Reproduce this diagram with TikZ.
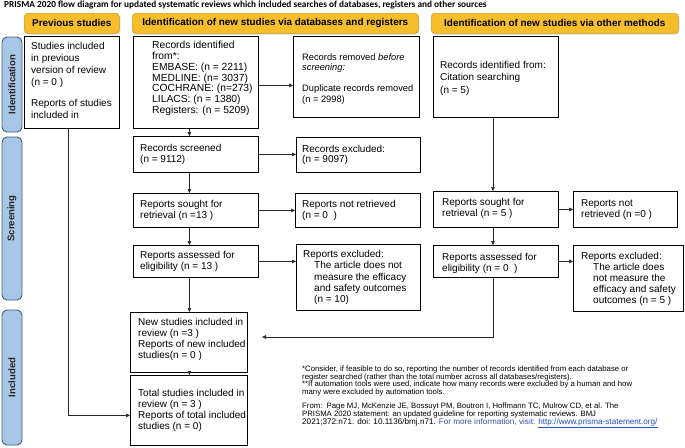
\documentclass[tikz,border=0pt]{standalone}
\usepackage{fontspec}
\setmainfont{Liberation Sans}
\newfontfamily\calib{Carlito}
\usetikzlibrary{arrows.meta,shadows}
\definecolor{hdrfill}{HTML}{F5BE2A}
\definecolor{hdrdraw}{HTML}{D29E1C}
\definecolor{barfill}{HTML}{A8C6E6}
\definecolor{bardraw}{HTML}{3E5F86}
\definecolor{linkblue}{HTML}{1F4FC4}
\definecolor{infoblue}{HTML}{3B4EA0}
\begin{document}
\begin{tikzpicture}[x=1pt,y=-1pt,
  hdr/.style={draw=hdrdraw, fill=hdrfill, rounded corners=3.5pt, line width=0.6pt, anchor=north west, inner sep=0pt,
    font=\fontsize{9.9}{11}\selectfont\bfseries,
    drop shadow={shadow xshift=1pt, shadow yshift=-1.3pt, fill=black!30}},
  side/.style={draw=bardraw, fill=barfill, rounded corners=5pt, line width=0.9pt, inner sep=0pt, rotate=90,
    font=\fontsize{9.6}{11}\selectfont\bfseries, text=black!85},
  box/.style={draw=black, line width=0.85pt, anchor=north west, inner sep=0pt, fill=white},
  txt/.style={anchor=west, align=left, inner sep=0pt, font=\fontsize{10}{10.8}\selectfont},
  arr/.style={-{Triangle[length=4pt,width=3.6pt]}, line width=0.6pt, draw=black!85},
  foot/.style={anchor=north west, align=left, inner sep=0pt, font=\fontsize{7.75}{7.7}\selectfont}
]
\useasboundingbox (0,0) rectangle (685,447);

% title
\node[anchor=west, inner sep=0pt, font=\calib\bfseries\fontsize{9.3}{10}\selectfont] (title) at (4,5)
  {PRISMA 2020 flow diagram for updated systematic reviews which included searches of databases, registers and other sources};

% headers
\node[hdr, minimum width=95, minimum height=20] (h1) at (24,13) {Previous studies};
\node[hdr, minimum width=286, minimum height=20] (h2) at (132,13) {Identification of new studies via databases and registers};
\node[hdr, minimum width=247, minimum height=20] (h3) at (431,13) {Identification of new studies via other methods};

% side bars
\node[side, minimum width=95, minimum height=20] (sid) at (12,84.5) {Identification};
\node[side, minimum width=163, minimum height=20] (sscr) at (12,218.5) {Screening};
\node[side, minimum width=135, minimum height=20] (sinc) at (12,377.5) {Included};

% previous studies
\node[box, minimum width=95, minimum height=92] (prev) at (24,36) {};
\node[txt, anchor=north west, font=\fontsize{10}{12}\selectfont] (tprev) at (31,42)
  {Studies included\\in previous\\version of review\\(n = 0 )\\[8.7pt]Reports of studies\\included in};

% databases column
\node[box, minimum width=125, minimum height=92] (recid) at (133,36) {};
\node[txt, font=\fontsize{10.3}{10.7}\selectfont] (trecid) at ([xshift=19pt,yshift=4pt]recid.west)
  {Records identified\\from*:\\EMBASE: (n = 2211)\\MEDLINE: (n= 3037)\\COCHRANE: (n=273)\\LILACS: (n = 1380)\\Registers: (n = 5209)};

\node[box, minimum width=126, minimum height=81] (remov) at (293,36) {};
\node[txt, font=\fontsize{9.3}{10.6}\selectfont] (tremov) at ([xshift=9pt,yshift=-2pt]remov.west)
  {Records removed \textit{before}\\\textit{screening:}\\[10.6pt]Duplicate records removed\\(n = 2998)};

\node[box, minimum width=125, minimum height=36] (scr) at (133,136) {};
\node[txt] (tscr) at ([xshift=7pt]scr.west) {Records screened\\(n = 9112)};

\node[box, minimum width=124, minimum height=35] (excl) at (296,137) {};
\node[txt] (texcl) at ([xshift=6pt]excl.west) {Records excluded:\\(n = 9097)};

\node[box, minimum width=125, minimum height=34] (sought) at (133,193) {};
\node[txt] (tsought) at ([xshift=7pt]sought.west) {Reports sought for\\retrieval (n =13 )};

\node[box, minimum width=125, minimum height=34] (notret) at (295,193) {};
\node[txt] (tnotret) at ([xshift=7pt]notret.west) {Reports not retrieved\\(n = 0\ \ )};

\node[box, minimum width=125, minimum height=32] (asse) at (133,245) {};
\node[txt] (tasse) at ([xshift=7pt]asse.west) {Reports assessed for\\eligibility (n = 13 )};

\node[box, minimum width=124, minimum height=66] (excl2) at (296,244) {};
\node[txt, font=\fontsize{10}{11.2}\selectfont] (texcl2) at ([xshift=7pt]excl2.west)
  {Reports excluded:\\\hspace*{11pt}The article does not\\\hspace*{11pt}measure the efficacy\\\hspace*{11pt}and safety outcomes\\\hspace*{11pt}(n = 10)};

\node[box, minimum width=117, minimum height=60] (newst) at (130,312) {};
\node[txt] (tnewst) at ([xshift=8pt,yshift=3pt]newst.west)
  {New studies included in\\review (n =3 )\\Reports of new included\\studies(n = 0 )};

\node[box, minimum width=117, minimum height=70] (total) at (130,375) {};
\node[txt] (ttotal) at ([xshift=8pt]total.west)
  {Total studies included in\\review (n = 3 )\\Reports of total included\\studies (n = 0)};

% other methods column
\node[box, minimum width=125, minimum height=81] (cite) at (433,36) {};
\node[txt, font=\fontsize{10}{12.5}\selectfont] (tcite) at ([xshift=7pt,yshift=-1pt]cite.west)
  {Records identified from:\\Citation searching\\(n = 5)};

\node[box, minimum width=125, minimum height=36] (sought2) at (433,191) {};
\node[txt] (tsought2) at ([xshift=9pt,yshift=1pt]sought2.west) {Reports sought for\\retrieval (n = 5 )};

\node[box, minimum width=104, minimum height=36] (notret2) at (573,191) {};
\node[txt] (tnotret2) at ([xshift=8pt]notret2.west) {Reports not\\retrieved (n =0 )};

\node[box, minimum width=125, minimum height=32] (asse2) at (433,245) {};
\node[txt] (tasse2) at ([xshift=9pt,yshift=-2pt]asse2.west) {Reports assessed for\\eligibility (n = 0\ \ )};

\node[box, minimum width=110, minimum height=66] (excl3) at (573,245) {};
\node[txt, font=\fontsize{10}{11}\selectfont] (texcl3) at ([xshift=8pt]excl3.west)
  {Reports excluded:\\\hspace*{12pt}The article does\\\hspace*{12pt}not measure the\\\hspace*{12pt}efficacy and safety\\\hspace*{12pt}outcomes (n = 5 )};

% connectors
\draw[arr] ([yshift=-3pt]recid.east) -- ([yshift=-3pt]recid.east -| remov.west);
\draw[arr] ([xshift=-6.5pt]recid.south) -- ([xshift=-6.5pt]scr.north);
\draw[arr] (scr.east) -- (scr.east -| excl.west);
\draw[arr] ([xshift=-6.5pt]scr.south) -- ([xshift=-6.5pt]sought.north);
\draw[arr] (sought.east) -- (sought.east -| notret.west);
\draw[arr] ([xshift=-6.5pt]sought.south) -- ([xshift=-6.5pt]asse.north);
\draw[arr] (asse.east) -- (asse.east -| excl2.west);
\draw[arr] ([xshift=-6.5pt]asse.south) -- ([xshift=-6.5pt]asse.south |- newst.north);
\draw[arr] ([xshift=-6.5pt]asse.south |- newst.south) -- ([xshift=-6.5pt]asse.south |- total.north);
\draw[arr] ([xshift=-3.5pt]prev.south) |- ([yshift=-5pt]total.west);

\draw[arr] ([xshift=-3pt]cite.south) -- ([xshift=-3pt]sought2.north);
\draw[arr] (sought2.east) -- (sought2.east -| notret2.west);
\draw[arr] ([xshift=-3pt]sought2.south) -- ([xshift=-3pt]asse2.north);
\draw[arr] (asse2.east) -- (asse2.east -| excl3.west);
\coordinate (newin) at (262,337);
\draw[arr] ([xshift=-2.5pt]asse2.south) |- (newin);

% footnotes
\node[foot] (fn1) at (302,365.5)
  {*Consider, if feasible to do so, reporting the number of records identified from each database or\\
   register searched (rather than the total number across all databases/registers).\\
   **If automation tools were used, indicate how many records were excluded by a human and how\\
   many were excluded by automation tools.};
\node[foot, font=\fontsize{7.75}{8}\selectfont] (fn2) at (302,402.5)
  {From:\ \ Page MJ, McKenzie JE, Bossuyt PM, Boutron I, Hoffmann TC, Mulrow CD, et al. The\\
   PRISMA 2020 statement: an updated guideline for reporting systematic reviews. BMJ\\
   \fontsize{8.15}{8}\selectfont 2021;372:n71. doi: 10.1136/bmj.n71. \textcolor{infoblue}{For more information, visit:} \textcolor{linkblue}{\underline{http://www.prisma-statement.org/}}};
\end{tikzpicture}
\end{document}
